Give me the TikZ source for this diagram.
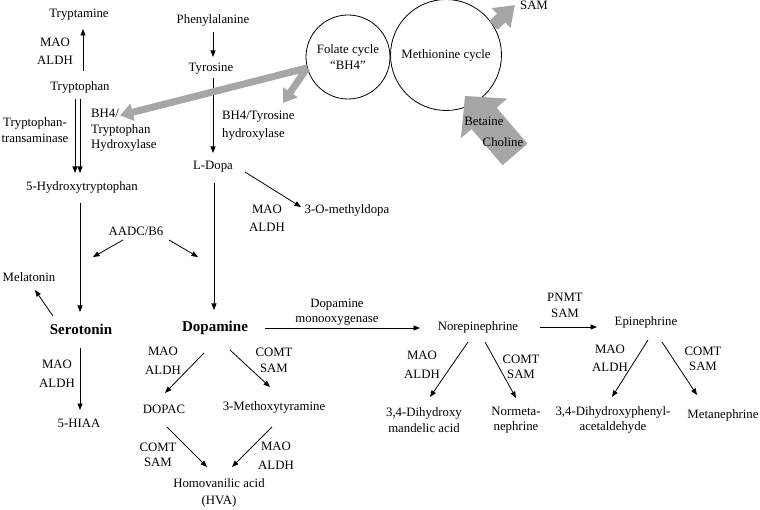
\documentclass[tikz,border=0pt]{standalone}
\usepackage{fontspec}
\setmainfont{Liberation Serif}
\usetikzlibrary{arrows.meta,calc}
\definecolor{arrgray}{RGB}{166,166,166}
\begin{document}
\begin{tikzpicture}[x=1pt,y=-1pt,
  every node/.style={inner sep=0pt, font=\fontsize{12.8}{15.5}\selectfont},
  lbl/.style={align=center},
  lblwide/.style={align=center, font=\fontsize{12.8}{18.5}\selectfont},
  lblleft/.style={align=left, anchor=west},
  boldchem/.style={font=\fontsize{15}{18}\selectfont\bfseries},
  arr/.style={-{Triangle[length=6.5pt,width=5pt]}, line width=0.8pt},
  cyc/.style={circle, draw, line width=0.8pt, align=center},
  grayarr/.style={draw=arrgray, line width=7pt, -{Triangle[length=13pt,width=17pt]}},
  samarr/.style={draw=arrgray, line width=12pt, -{Triangle[length=19pt,width=26pt]}},
  bigarr/.style={fill=arrgray, draw=none}
]
\useasboundingbox (0,0) rectangle (760,510);

% compounds
\node (trpm) at (79,15) {Tryptamine};
\node (trp) at (80,87) {Tryptophan};
\node (htp) at (82,187) {5-Hydroxytryptophan};
\node[boldchem] (ser) at (81,329) {Serotonin};
\node (mel) at (29,277) {Melatonin};
\node (hiaa) at (79,423) {5-HIAA};
\node (phe) at (213,20) {Phenylalanine};
\node (tyr) at (211,69) {Tyrosine};
\node (ldopa) at (213,167) {L-Dopa};
\node (omd) at (347,210) {3-O-methyldopa};
\node[boldchem] (dop) at (215,328) {Dopamine};
\node (dopac) at (164,409) {DOPAC};
\node (mt) at (274,407) {3-Methoxytyramine};
\node[lbl] (hva) at (219,493) {Homovanilic acid\\[1.5pt](HVA)};
\node (ne) at (478,327) {Norepinephrine};
\node (epi) at (646,322) {Epinephrine};
\node[lbl] (dma) at (424,420) {3,4-Dihydroxy\\mandelic acid};
\node[lbl] (nmn) at (516,420) {Normeta-\\nephrine};
\node[lbl] (dhpa) at (613,420) {3,4-Dihydroxyphenyl-\\acetaldehyde};
\node (mn) at (723,415) {Metanephrine};
\node[cyc, minimum size=84pt] (fol) at (348,57) {Folate cycle\\“BH4”};
\node[cyc, minimum size=111pt] (met) at (446,55) {Methionine cycle};
\node (sam) at (534,5) {SAM};

% enzyme labels
\node[lblwide] (e1) at (55,51.5) {MAO\\ALDH};
\node[lbl] (e2) at (35,130) {Tryptophan-\\transaminase};
\node[lblleft] (e3) at (91,130.5) {BH4/\\Tryptophan\\Hydroxylase};
\node[lblleft, font=\fontsize{12.8}{18}\selectfont] (e4) at (222,126) {BH4/Tyrosine\\hydroxylase};
\node[lblwide] (e5) at (267,218.5) {MAO\\ALDH};
\node (e6) at (136,231) {AADC/B6};
\node[lbl] (e7) at (337,312) {Dopamine\\monooxygenase};
\node[lblwide] (e8) at (57,374) {MAO\\ALDH};
\node[lblwide] (e9) at (163,361) {MAO\\ALDH};
\node[lbl] (e10) at (274,360.5) {COMT\\SAM};
\node[lbl] (e11) at (158,455) {COMT\\SAM};
\node[lblwide] (e12) at (276,456) {MAO\\ALDH};
\node[lbl] (e13) at (565,305.5) {PNMT\\SAM};
\node[lblwide] (e14) at (422,365) {MAO\\ALDH};
\node[lbl] (e15) at (521,367) {COMT\\SAM};
\node[lblwide] (e16) at (610,358.5) {MAO\\ALDH};
\node[lbl] (e17) at (703,359) {COMT\\SAM};

\coordinate (ae1) at (93,257);
\coordinate (ae2) at (198,257);

% black arrows
\draw[arr] ($(trp)+(3,-16)$) -- ($(trpm)+(4,14)$);
\draw[arr] ($(trp)+(-5,12)$) -- ($(htp)+(-7,-14)$);
\draw[arr] ($(trp)+(0,12)$) -- ($(htp)+(-2,-14)$);
\draw[arr] ($(phe)+(0,12)$) -- ($(tyr)+(2,-12)$);
\draw[arr] ($(tyr)+(2,9)$) -- ($(ldopa)+(0,-14)$);
\draw[arr] ($(ldopa)+(32,5)$) -- ($(omd)+(-46,-3)$);
\draw[arr] ($(ldopa)+(1,16)$) -- ($(dop)+(-1,-18)$);
\draw[arr] ($(htp)+(-2,16)$) -- ($(ser)+(-1,-17)$);
\draw[arr] ($(e6)+(-13,9)$) -- (ae1);
\draw[arr] ($(e6)+(33,9)$) -- (ae2);
\draw[arr] ($(ser)+(-28,-13)$) -- ($(mel)+(6,13)$);
\draw[arr] ($(ser)+(-1,19)$) -- ($(hiaa)+(1,-13)$);
\draw[arr] ($(dop)+(50,0)$) -- ($(ne)+(-58,1)$);
\draw[arr] ($(ne)+(62,0)$) -- ($(epi)+(-49,5)$);
\draw[arr] ($(dop)+(-11,25)$) -- ($(dopac)+(1,-16)$);
\draw[arr] ($(dop)+(15,22)$) -- ($(mt)+(-4,-20)$);
\draw[arr] ($(dopac)+(3,18)$) -- ($(hva)+(-12,-26)$);
\draw[arr] ($(mt)+(-2,20)$) -- ($(hva)+(13,-26)$);
\draw[arr] ($(ne)+(-10,15)$) -- ($(dma)+(6,-23)$);
\draw[arr] ($(ne)+(7,15)$) -- ($(nmn)+(0,-22)$);
\draw[arr] ($(epi)+(2,18)$) -- ($(dhpa)+(-1,-23)$);
\draw[arr] ($(epi)+(16,20)$) -- ($(mn)+(-26,-20)$);

% gray arrows
\draw[grayarr] (fol.195) -- ($(e3.west)+(29,-15)$);
\draw[grayarr] (fol.195) -- ($(e4.west)+(61,-23)$);
\draw[samarr] (met.32) -- ($(sam.west)+(-5,0)$);
% large Betaine/Choline arrow pointing into the methionine cycle
\coordinate (bt) at ($(met)+(19,41)$);
\fill[bigarr] (bt) -- ($(bt)+(42.3,2.6)$) -- ($(bt)+(31.6,11.7)$) -- ($(bt)+(62.5,47.8)$)
  -- ($(bt)+(37.5,69.2)$) -- ($(bt)+(6.6,33.1)$) -- ($(bt)+(-4.1,42.2)$) -- cycle;

\node (bet) at (484,121) {Betaine};
\node (cho) at (503,142) {Choline};
\end{tikzpicture}
\end{document}
